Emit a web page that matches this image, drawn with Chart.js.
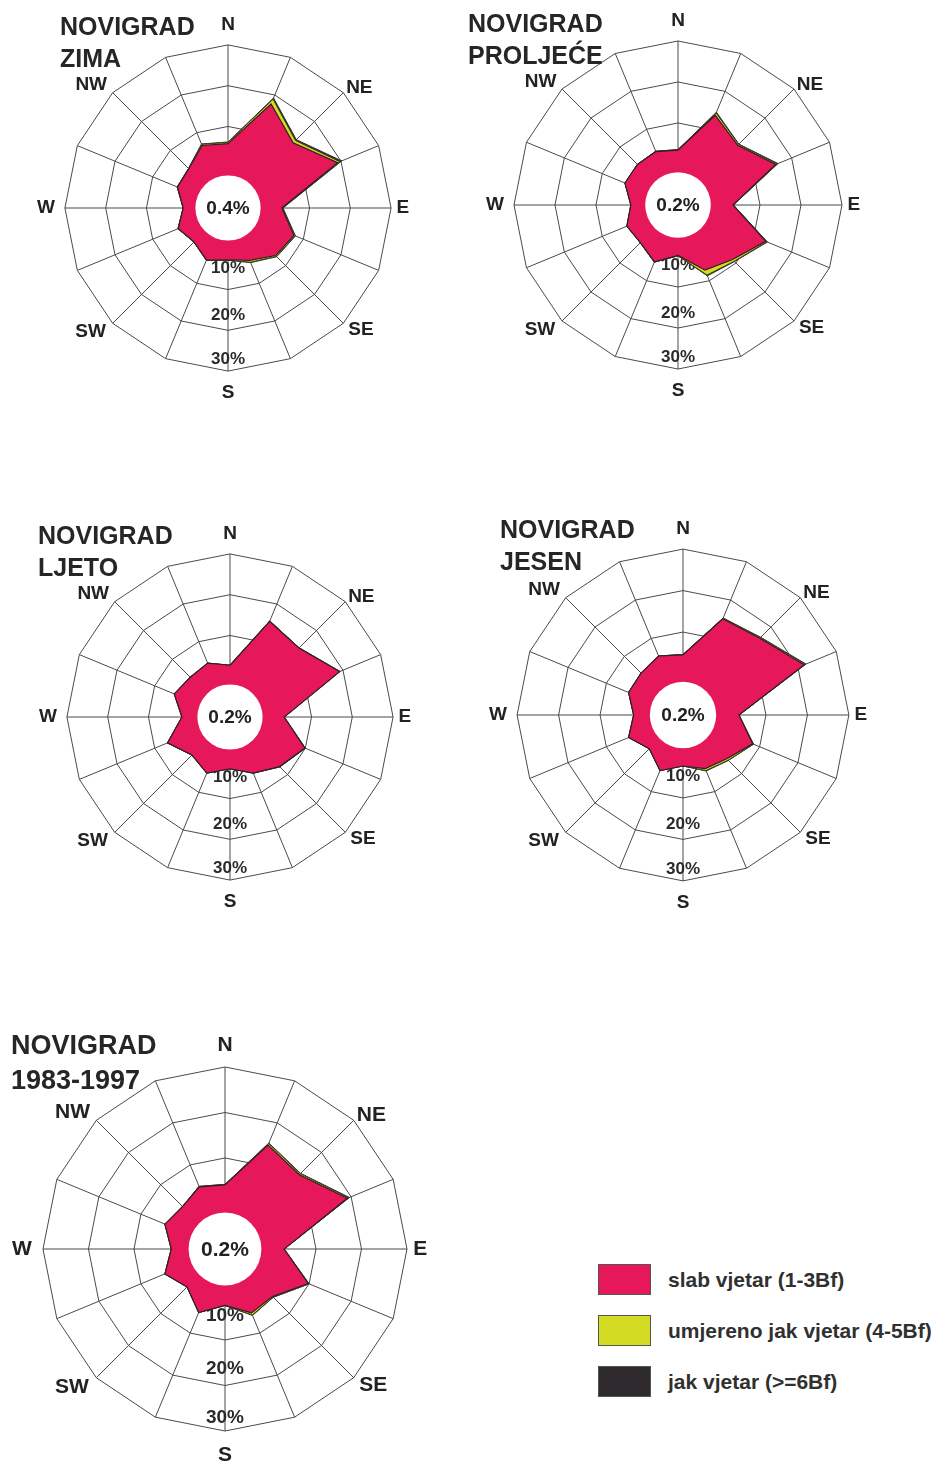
<!DOCTYPE html>
<html>
<head>
<meta charset="utf-8">
<title>Novigrad - ruže vjetrova</title>
<script src="https://cdn.jsdelivr.net/npm/chart.js@4.4.0/dist/chart.umd.min.js"></script>
<style>
  body { margin: 0; background: #fff; width: 941px; height: 1470px; position: relative; overflow: hidden;
         font-family: "Liberation Sans", Arial, Helvetica, sans-serif; }
  .box { position: absolute; }
  .title { position: absolute; font-weight: bold; color: #262626; white-space: nowrap; font-size: 25px; line-height: 32px; }
  .legend { position: absolute; left: 598px; top: 1254px; }
  .legend div { display: flex; align-items: center; height: 51px; font-size: 21px; font-weight: bold; color: #303030; white-space: nowrap; }
  .legend span { display: inline-block; width: 53px; height: 31px; margin-right: 17px; border: 1px solid #555; box-sizing: border-box; }
</style>
</head>
<body>

<script>
// 16 wind directions, only the main 8 get a label
const directions = ['N', 'NNE', 'NE', 'ENE', 'E', 'ESE', 'SE', 'SSE', 'S', 'SSW', 'SW', 'WSW', 'W', 'WNW', 'NW', 'NNW'];
const mainDirections = ['N', 'NE', 'E', 'SE', 'S', 'SW', 'W', 'NW'];
const tickValues = [10, 20, 30];
const seriesNames = ['slab vjetar (1-3Bf)', 'umjereno jak vjetar (4-5Bf)', 'jak vjetar (>=6Bf)'];

// frequency in % per direction
const zimaSlab = [5.8, 17.6, 12.6, 19.1, 3.2, 7.5, 6.5, 3.9, 2.7, 3.8, 1.8, 3.2, 1.0, 3.4, 3.6, 6.6];
const zimaUmjereno = [0.3, 1.3, 0.8, 0.6, 0.2, 0.3, 0.3, 0.5, 0.1, 0.1, 0.0, 0.1, 0.0, 0.1, 0.1, 0.3];
const zimaJak = [0.1, 0.3, 0.3, 0.5, 0.1, 0.1, 0.1, 0.1, 0.0, 0.0, 0.0, 0.0, 0.0, 0.0, 0.0, 0.1];
const zimaTisina = 0.4;

const proljeceSlab = [3.4, 13.7, 10.6, 15.8, 3.4, 13.2, 8.8, 7.2, 2.3, 5.0, 3.0, 3.5, 1.5, 4.0, 4.0, 4.1];
const proljeceUmjereno = [0.1, 0.6, 0.3, 0.4, 0.1, 0.3, 0.6, 1.3, 0.1, 0.1, 0.0, 0.0, 0.0, 0.0, 0.0, 0.1];
const proljeceJak = [0.0, 0.2, 0.1, 0.2, 0.0, 0.1, 0.1, 0.2, 0.0, 0.0, 0.0, 0.0, 0.0, 0.0, 0.0, 0.0];
const proljeceTisina = 0.2;

const ljetoSlab = [2.7, 15.4, 13.9, 19.1, 3.3, 9.9, 7.2, 4.9, 2.7, 4.9, 3.2, 6.6, 1.8, 4.8, 3.8, 4.3];
const ljetoUmjereno = [0.0, 0.1, 0.1, 0.1, 0.0, 0.1, 0.1, 0.0, 0.0, 0.0, 0.0, 0.0, 0.0, 0.0, 0.0, 0.0];
const ljetoJak = [0.0, 0.0, 0.0, 0.0, 0.0, 0.0, 0.0, 0.0, 0.0, 0.0, 0.0, 0.0, 0.0, 0.0, 0.0, 0.0];
const ljetoTisina = 0.2;

const jesenSlab = [4.5, 15.1, 16.2, 21.6, 3.5, 8.2, 4.9, 4.0, 2.3, 4.5, 1.5, 4.2, 1.9, 4.2, 4.3, 5.4];
const jesenUmjereno = [0.1, 0.2, 0.2, 0.3, 0.0, 0.2, 0.5, 0.5, 0.0, 0.0, 0.0, 0.0, 0.0, 0.0, 0.0, 0.0];
const jesenJak = [0.0, 0.0, 0.1, 0.2, 0.0, 0.0, 0.1, 0.1, 0.0, 0.0, 0.0, 0.0, 0.0, 0.0, 0.0, 0.0];
const jesenTisina = 0.2;

const ukupnoSlab = [4.1, 14.7, 13.1, 19.1, 3.0, 9.8, 4.8, 5.2, 2.4, 5.1, 1.8, 4.3, 1.8, 4.3, 3.2, 4.8];
const ukupnoUmjereno = [0.1, 0.4, 0.3, 0.3, 0.0, 0.2, 0.2, 0.5, 0.0, 0.0, 0.0, 0.0, 0.0, 0.0, 0.0, 0.1];
const ukupnoJak = [0.0, 0.1, 0.1, 0.2, 0.0, 0.0, 0.0, 0.1, 0.0, 0.0, 0.0, 0.0, 0.0, 0.0, 0.0, 0.0];
const ukupnoTisina = 0.2;

const FONT = '"Liberation Sans", Arial, Helvetica, sans-serif';
const RED = '#e6185a';
const YELLOW = '#d3dc22';
const DARK = '#2f2a2d';
const GRID = '#4a4a4a';

// label distance beyond the outer ring, per main direction (px at radius 163)
const labelPad = { N: 18, NE: 4, E: 5.5, SE: 7, S: 20, SW: 9.5, W: 10, NW: 8 };
// tick labels sit a little inside their ring (in % units)
const tickShift = [5.3, 3.7, 2.9];

Chart.defaults.font.family = FONT;

const rosePlugin = {
  id: 'rose',
  beforeDatasetsDraw(chart) {
    const s = chart.scales.r;
    const ctx = chart.ctx;
    const k = s.drawingArea / 163;
    ctx.save();
    ctx.font = 'bold ' + Math.round(17 * k) + 'px ' + FONT;
    ctx.fillStyle = '#2a2a2a';
    ctx.textAlign = 'center';
    ctx.textBaseline = 'middle';
    tickValues.forEach((v, i) => {
      const d = s.getDistanceFromCenterForValue(v - tickShift[i]);
      ctx.fillText(v + '%', s.xCenter, s.yCenter + d);
    });
    ctx.restore();
  },
  afterDatasetsDraw(chart, args, opts) {
    const s = chart.scales.r;
    const ctx = chart.ctx;
    const k = s.drawingArea / 163;
    const r0 = s.getDistanceFromCenterForValue(0) * 0.8;
    ctx.save();
    ctx.beginPath();
    ctx.arc(s.xCenter, s.yCenter, r0, 0, Math.PI * 2);
    ctx.fillStyle = '#fff';
    ctx.fill();
    ctx.font = 'bold ' + Math.round(19 * k) + 'px ' + FONT;
    ctx.fillStyle = '#222';
    ctx.textAlign = 'center';
    ctx.textBaseline = 'middle';
    ctx.fillText(opts.calm, s.xCenter, s.yCenter + 1);
    ctx.restore();
  }
};

const roses = [
  { title: ['NOVIGRAD', 'ZIMA'], slab: zimaSlab, umj: zimaUmjereno, jak: zimaJak, calm: zimaTisina,
    cx: 228, cy: 208, r: 163, tx: 60, ty: 10, fs: 25 },
  { title: ['NOVIGRAD', 'PROLJEĆE'], slab: proljeceSlab, umj: proljeceUmjereno, jak: proljeceJak, calm: proljeceTisina,
    cx: 678, cy: 205, r: 164, tx: 468, ty: 7, fs: 25 },
  { title: ['NOVIGRAD', 'LJETO'], slab: ljetoSlab, umj: ljetoUmjereno, jak: ljetoJak, calm: ljetoTisina,
    cx: 230, cy: 717, r: 163, tx: 38, ty: 519, fs: 25 },
  { title: ['NOVIGRAD', 'JESEN'], slab: jesenSlab, umj: jesenUmjereno, jak: jesenJak, calm: jesenTisina,
    cx: 683, cy: 715, r: 166, tx: 500, ty: 513, fs: 25 },
  { title: ['NOVIGRAD', '1983-1997'], slab: ukupnoSlab, umj: ukupnoUmjereno, jak: ukupnoJak, calm: ukupnoTisina,
    cx: 225, cy: 1249, r: 182, tx: 11, ty: 1028, fs: 27 }
];

function makeRose(cfg) {
  const k = cfg.r / 163;
  const box = document.createElement('div');
  box.className = 'box';
  const canvas = document.createElement('canvas');
  const size = Math.round(2 * cfg.r + 100);
  canvas.width = size;
  canvas.height = size;
  box.appendChild(canvas);
  document.body.appendChild(box);

  // the three classes are stacked outward, so each polygon is a running sum
  const umjTotal = cfg.slab.map((v, i) => v + cfg.umj[i]);
  const jakTotal = umjTotal.map((v, i) => v + cfg.jak[i]);

  const chart = new Chart(canvas, {
    type: 'radar',
    data: {
      labels: directions,
      datasets: [
        { label: seriesNames[0], data: cfg.slab, backgroundColor: RED, borderColor: '#2e1f26', borderWidth: 1.2, fill: 'start', pointRadius: 0 },
        { label: seriesNames[1], data: umjTotal, backgroundColor: YELLOW, borderColor: '#3c3c22', borderWidth: 1, fill: 'start', pointRadius: 0 },
        { label: seriesNames[2], data: jakTotal, backgroundColor: DARK, borderColor: DARK, borderWidth: 1, fill: 'start', pointRadius: 0 }
      ]
    },
    options: {
      responsive: false,
      maintainAspectRatio: false,
      animation: false,
      events: [],
      // room for the glyphs, the label boxes are squeezed by the small line height
      layout: { padding: 14 },
      elements: { line: { tension: 0 } },
      plugins: {
        legend: { display: false },
        tooltip: { enabled: false },
        rose: { calm: cfg.calm.toFixed(1) + '%' }
      },
      scales: {
        r: {
          min: -10,
          max: 30,
          ticks: { display: false, stepSize: 10 },
          grid: { color: GRID, lineWidth: 1 },
          angleLines: { color: GRID, lineWidth: 1 },
          pointLabels: {
            color: '#222',
            // tiny line height so the diagonal labels sit on the spoke extension
            font: { size: Math.round(19 * k), weight: 'bold', lineHeight: 0.2 },
            padding: (ctx) => (labelPad[directions[ctx.index]] || 0) * k,
            callback: (label) => mainDirections.includes(label) ? label : ''
          }
        }
      }
    },
    plugins: [rosePlugin]
  });

  // grow the canvas until the outer ring has the wanted radius, then move it into place
  for (let pass = 0; pass < 2; pass++) {
    const s = chart.scales.r;
    const newSize = Math.round(chart.width + 2 * (cfg.r - s.drawingArea));
    chart.resize(newSize, newSize);
  }
  const s = chart.scales.r;
  box.style.left = Math.round(cfg.cx - s.xCenter) + 'px';
  box.style.top = Math.round(cfg.cy - s.yCenter) + 'px';

  const title = document.createElement('div');
  title.className = 'title';
  title.style.left = cfg.tx + 'px';
  title.style.top = cfg.ty + 'px';
  title.style.fontSize = cfg.fs + 'px';
  title.style.lineHeight = Math.round(cfg.fs * 1.29) + 'px';
  title.innerHTML = cfg.title.join('<br>');
  document.body.appendChild(title);
}

roses.forEach(makeRose);

// legend
const legendColors = [RED, YELLOW, DARK];
const legend = document.createElement('div');
legend.className = 'legend';
seriesNames.forEach((name, i) => {
  const row = document.createElement('div');
  const sw = document.createElement('span');
  sw.style.background = legendColors[i];
  row.appendChild(sw);
  row.appendChild(document.createTextNode(name));
  legend.appendChild(row);
});
document.body.appendChild(legend);
</script>
</body>
</html>
